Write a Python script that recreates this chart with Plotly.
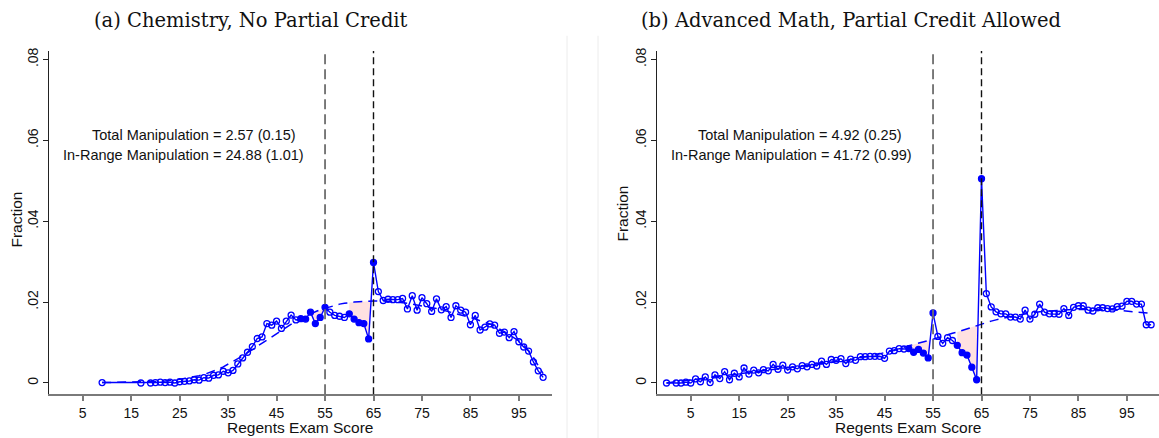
import numpy as np
import plotly.graph_objects as go

# ---------------- data ----------------
chem_score = [9, 17] + list(range(19, 101))
chem_frac = [
    0.0001, 0.0000,
    0.0000, 0.0001, 0.0002, 0.0001, 0.0002, 0.0000, 0.0003, 0.0004, 0.0005, 0.0008,  # 19-28
    0.0007, 0.0013, 0.0012, 0.0019, 0.0020, 0.0029, 0.0025, 0.0031, 0.0047, 0.0062,  # 29-38
    0.0076, 0.0090, 0.0110, 0.0114, 0.0147, 0.0143, 0.0153, 0.0135, 0.0153, 0.0168,  # 39-48
    0.0156, 0.0159, 0.0158, 0.0175, 0.0147, 0.0162, 0.0187, 0.0175, 0.0167, 0.0165,  # 49-58
    0.0162, 0.0171, 0.0158, 0.0149, 0.0147, 0.0109, 0.0298, 0.0226, 0.0204, 0.0207,  # 59-68
    0.0206, 0.0206, 0.0209, 0.0183, 0.0216, 0.0180, 0.0211, 0.0196, 0.0177, 0.0208,  # 69-78
    0.0181, 0.0189, 0.0162, 0.0191, 0.0180, 0.0175, 0.0144, 0.0167, 0.0131, 0.0138,  # 79-88
    0.0146, 0.0143, 0.0123, 0.0126, 0.0112, 0.0127, 0.0102, 0.0089, 0.0079, 0.0052,  # 89-98
    0.0030, 0.0014,                                                                  # 99-100
]
chem_cf = [
    0.0001, 0.0002,
    0.0003, 0.0003, 0.0004, 0.0005, 0.0006, 0.0007, 0.0009, 0.0011, 0.0013, 0.0015,  # 19-28
    0.0018, 0.0021, 0.0025, 0.0029, 0.0034, 0.0040, 0.0046, 0.0053, 0.0060, 0.0067,  # 29-38
    0.0075, 0.0083, 0.0091, 0.0099, 0.0107, 0.0115, 0.0123, 0.0131, 0.0139, 0.0146,  # 39-48
    0.0153, 0.0160, 0.0166, 0.0171, 0.0176, 0.0181, 0.0185, 0.0189, 0.0192, 0.0195,  # 49-58
    0.0197, 0.0199, 0.0200, 0.0201, 0.0202, 0.0203, 0.0203, 0.0203, 0.0203, 0.0202,  # 59-68
    0.0201, 0.0200, 0.0199, 0.0197, 0.0195, 0.0193, 0.0191, 0.0189, 0.0186, 0.0184,  # 69-78
    0.0181, 0.0178, 0.0175, 0.0172, 0.0169, 0.0166, 0.0162, 0.0158, 0.0154, 0.0150,  # 79-88
    0.0146, 0.0140, 0.0134, 0.0127, 0.0119, 0.0112, 0.0104, 0.0094, 0.0080, 0.0063,  # 89-98
    0.0044, 0.0023,                                                                  # 99-100
]

math_score = [0] + list(range(2, 101))
math_frac = [
    0.0000,
    0.0000, 0.0000, 0.0002, 0.0000, 0.0010, 0.0003, 0.0015, 0.0001, 0.0020,  # 2-10
    0.0011, 0.0028, 0.0008, 0.0024, 0.0015, 0.0037, 0.0022, 0.0032, 0.0025, 0.0033,  # 11-20
    0.0030, 0.0046, 0.0034, 0.0044, 0.0032, 0.0040, 0.0035, 0.0043, 0.0040, 0.0046,  # 21-30
    0.0042, 0.0054, 0.0046, 0.0058, 0.0056, 0.0060, 0.0048, 0.0059, 0.0056, 0.0065,  # 31-40
    0.0065, 0.0066, 0.0066, 0.0066, 0.0061, 0.0079, 0.0080, 0.0085, 0.0084, 0.0085,  # 41-50
    0.0076, 0.0083, 0.0074, 0.0062, 0.0173, 0.0115, 0.0098, 0.0112, 0.0105, 0.0093,  # 51-60
    0.0075, 0.0069, 0.0039, 0.0008, 0.0505, 0.0221, 0.0188, 0.0176, 0.0171, 0.0171,  # 61-70
    0.0163, 0.0163, 0.0158, 0.0180, 0.0158, 0.0170, 0.0195, 0.0175, 0.0171, 0.0171,  # 71-80
    0.0170, 0.0184, 0.0167, 0.0187, 0.0191, 0.0191, 0.0180, 0.0178, 0.0186, 0.0186,  # 81-90
    0.0184, 0.0183, 0.0189, 0.0190, 0.0202, 0.0202, 0.0195, 0.0195, 0.0144, 0.0144,  # 91-100
]
math_cf = [
    0.0000,
    0.0003, 0.0005, 0.0006, 0.0008, 0.0009, 0.0011, 0.0012, 0.0014, 0.0015,  # 2-10
    0.0017, 0.0018, 0.0020, 0.0021, 0.0023, 0.0024, 0.0026, 0.0027, 0.0029, 0.0030,  # 11-20
    0.0031, 0.0033, 0.0034, 0.0036, 0.0037, 0.0038, 0.0040, 0.0041, 0.0043, 0.0044,  # 21-30
    0.0046, 0.0047, 0.0049, 0.0050, 0.0052, 0.0054, 0.0056, 0.0058, 0.0060, 0.0062,  # 31-40
    0.0064, 0.0067, 0.0069, 0.0072, 0.0075, 0.0078, 0.0082, 0.0085, 0.0088, 0.0092,  # 41-50
    0.0095, 0.0098, 0.0101, 0.0105, 0.0108, 0.0112, 0.0116, 0.0119, 0.0123, 0.0126,  # 51-60
    0.0130, 0.0134, 0.0138, 0.0142, 0.0146, 0.0149, 0.0153, 0.0156, 0.0159, 0.0162,  # 61-70
    0.0164, 0.0167, 0.0169, 0.0171, 0.0173, 0.0175, 0.0176, 0.0177, 0.0178, 0.0179,  # 71-80
    0.0180, 0.0181, 0.0181, 0.0182, 0.0182, 0.0182, 0.0182, 0.0182, 0.0182, 0.0182,  # 81-90
    0.0181, 0.0181, 0.0180, 0.0179, 0.0178, 0.0177, 0.0176, 0.0175, 0.0173, 0.0172,  # 91-100
]

# scores inside the manipulable windows (drawn as solid markers)
manip_windows = [(50, 55), (60, 65)]
panel_titles = ["(a) Chemistry, No Partial Credit", "(b) Advanced Math, Partial Credit Allowed"]
notes = [
    ("Total Manipulation = 2.57 (0.15)", "In-Range Manipulation = 24.88 (1.01)"),
    ("Total Manipulation = 4.92 (0.25)", "In-Range Manipulation = 41.72 (0.99)"),
]
cutoffs = [55, 65]
x_ticks = list(range(5, 100, 10))
y_ticks = [0, 0.02, 0.04, 0.06, 0.08]
y_tick_text = ["0", ".02", ".04", ".06", ".08"]

# ---------------- styling ----------------
W, H = 1159, 438
BLUE = "rgb(0,0,255)"
PINK = "rgba(255,205,205,0.6)"
SANS = "Liberation Sans, Arial, sans-serif"
SERIF = "DejaVu Serif, serif"


def px_x(p):
    return p / W


def px_y(p):
    return 1 - p / H


def in_window(s):
    return any(a <= s <= b for a, b in manip_windows)


def gap_polygon(xs, ys, cf, lo, hi):
    """Region between counterfactual and observed where observed falls short."""
    grid = np.linspace(lo, hi, 401)
    d = np.interp(grid, xs, ys)
    c = np.interp(grid, xs, cf)
    low = np.minimum(d, c)
    return (np.concatenate([grid, grid[::-1]]).tolist(),
            np.concatenate([c, low[::-1]]).tolist())


fig = go.Figure()

panels = [
    (chem_score, chem_frac, chem_cf, "x", "y"),
    (math_score, math_frac, math_cf, "x2", "y2"),
]

for xs, ys, cf, xa, ya in panels:
    for lo, hi in manip_windows:
        gx, gy = gap_polygon(xs, ys, cf, lo, hi)
        fig.add_trace(go.Scatter(
            x=gx, y=gy, xaxis=xa, yaxis=ya, mode="lines", fill="toself",
            fillcolor=PINK, line=dict(width=0), hoverinfo="skip", showlegend=False))
    fig.add_trace(go.Scatter(
        x=xs, y=cf, xaxis=xa, yaxis=ya, mode="lines",
        line=dict(color=BLUE, width=1.5, dash="9px,6px"), showlegend=False))
    symbols = ["circle" if in_window(s) else "circle-open" for s in xs]
    fig.add_trace(go.Scatter(
        x=xs, y=ys, xaxis=xa, yaxis=ya, mode="lines+markers",
        line=dict(color=BLUE, width=1.4),
        marker=dict(symbol=symbols, size=6, color=BLUE,
                    line=dict(color=BLUE, width=1.3)),
        showlegend=False))

y_dom = [px_y(394), px_y(48.3)]
y_rng = [-0.0028, 0.0821]
x_rng_left = [-1.9, -1.9 + (552 - 49.3) / 4.846]
x_rng_right = [-1.9, -1.9 + (W - 657.3) / 4.846]

xcommon = dict(
    tickvals=x_ticks, showgrid=False, zeroline=False, showline=True,
    linecolor="#7a7a7a", linewidth=2, ticks="outside", ticklen=5,
    tickwidth=1.5, tickcolor="#7a7a7a",
    tickfont=dict(family=SANS, size=14, color="#111"),
)
ycommon = dict(
    range=y_rng, domain=y_dom, tickvals=y_ticks, ticktext=y_tick_text,
    tickangle=-90, showgrid=False, zeroline=False, showline=True,
    linecolor="#222", linewidth=1.2, ticks="outside", ticklen=5,
    tickwidth=1.1, tickcolor="#222",
    tickfont=dict(family=SANS, size=14, color="#111"),
)

fig.update_layout(
    width=W, height=H, autosize=False,
    margin=dict(l=0, r=0, t=0, b=0),
    paper_bgcolor="white", plot_bgcolor="white",
    xaxis=dict(domain=[px_x(49.3), px_x(552)], range=x_rng_left, anchor="y", **xcommon),
    yaxis=dict(anchor="x", **ycommon),
    xaxis2=dict(domain=[px_x(657.3), 1.0], range=x_rng_right, anchor="y2", **xcommon),
    yaxis2=dict(anchor="x2", **ycommon),
)

# cutoff reference lines
for xa in ["x", "x2"]:
    yref = "y domain" if xa == "x" else "y2 domain"
    fig.add_shape(type="line", xref=xa, yref=yref,
                  x0=cutoffs[0], x1=cutoffs[0], y0=0, y1=1,
                  line=dict(color="#6e6e6e", width=1.8, dash="10px,5px"))
    fig.add_shape(type="line", xref=xa, yref=yref,
                  x0=cutoffs[1], x1=cutoffs[1], y0=0, y1=1,
                  line=dict(color="#111", width=1.4, dash="7px,4px"))

# faint frame edges between the two panels
for p in (567, 598):
    fig.add_shape(type="line", xref="paper", yref="paper",
                  x0=px_x(p), x1=px_x(p), y0=0, y1=px_y(33),
                  line=dict(color="#ececec", width=1))

ann = []
# panel titles
for title, cx in zip(panel_titles, (251, 851)):
    ann.append(dict(text=title, x=px_x(cx), y=px_y(18), xref="paper", yref="paper",
                    showarrow=False, xanchor="center", yanchor="middle",
                    font=dict(family=SERIF, size=19.5, color="#111")))
# axis titles
for cx, cy in ((17, 218), (623, 212)):
    ann.append(dict(text="Fraction", x=px_x(cx), y=px_y(cy), xref="paper", yref="paper",
                    showarrow=False, textangle=-90, xanchor="center", yanchor="middle",
                    font=dict(family=SANS, size=15.5, color="#111")))
for cx in (300, 908):
    ann.append(dict(text="Regents Exam Score", x=px_x(cx), y=px_y(427.5), xref="paper",
                    yref="paper", showarrow=False, xanchor="center", yanchor="middle",
                    font=dict(family=SANS, size=15.5, color="#111")))
# manipulation estimates
for (t1, t2), (xa, ya), (c1, c2) in zip(notes, (("x", "y"), ("x2", "y2")),
                                        ((28.0, 25.8), (27.6, 25.7))):
    ann.append(dict(text=t1, x=c1, y=0.0612, xref=xa, yref=ya, showarrow=False,
                    xanchor="center", yanchor="middle",
                    font=dict(family=SANS, size=14.5, color="#111")))
    ann.append(dict(text=t2, x=c2, y=0.0564, xref=xa, yref=ya, showarrow=False,
                    xanchor="center", yanchor="middle",
                    font=dict(family=SANS, size=14.5, color="#111")))

fig.update_layout(annotations=ann)
fig.write_html("out.html")
